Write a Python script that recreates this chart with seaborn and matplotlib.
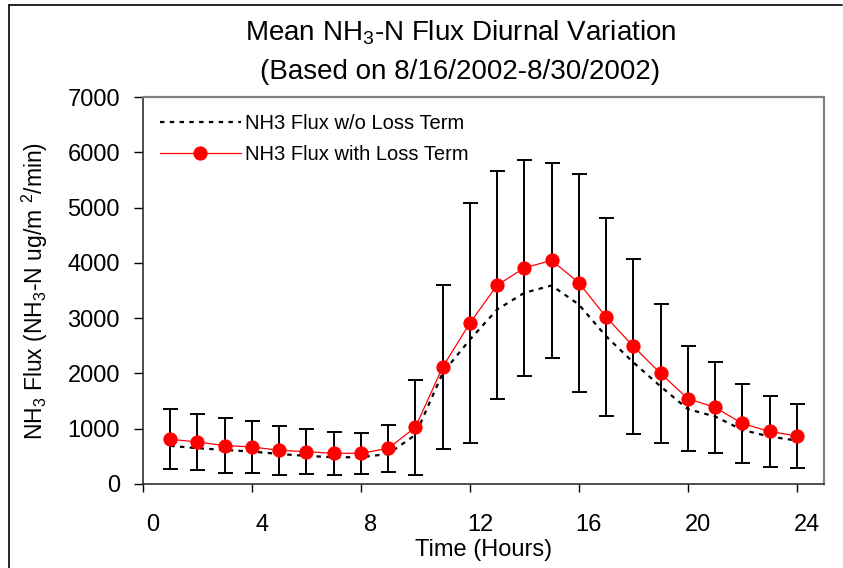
import matplotlib
matplotlib.use("Agg")
import matplotlib.pyplot as plt
import matplotlib.transforms as mtransforms
from matplotlib.lines import Line2D
import seaborn as sns
import pandas as pd

hours = list(range(1, 25))
flux_no_loss = [690, 647, 617, 586, 544, 508, 484, 484, 544, 889,
                2007, 2611, 3156, 3458, 3591, 3246, 2672, 2200, 1765, 1355,
                1221, 979, 858, 786]
flux_loss = [810, 760, 695, 670, 610, 585, 555, 555, 645, 1025,
             2115, 2910, 3595, 3910, 4045, 3640, 3020, 2490, 2000, 1545,
             1385, 1095, 950, 870]
flux_err = [538, 510, 496, 468, 441, 411, 384, 368, 426, 865,
            1490, 2164, 2058, 1958, 1759, 1973, 1783, 1586, 1260, 952,
            819, 722, 641, 583]

df = pd.DataFrame({"Hour": hours, "NoLoss": flux_no_loss, "Loss": flux_loss, "Err": flux_err})

sns.set_style("ticks")
plt.rcParams["font.family"] = ["Liberation Sans", "DejaVu Sans"]
plt.rcParams["mathtext.fontset"] = "custom"
plt.rcParams["mathtext.rm"] = "Liberation Sans"
plt.rcParams["mathtext.default"] = "regular"
plt.rcParams["text.color"] = "black"
plt.rcParams["axes.labelcolor"] = "black"
plt.rcParams["xtick.color"] = "black"
plt.rcParams["ytick.color"] = "black"

fig = plt.figure(figsize=(8.43, 5.68), dpi=100)
ax = fig.add_axes([0.1696, 0.1479, 0.8079, 0.6813])

ax.errorbar(df["Hour"], df["Loss"], yerr=df["Err"], fmt="none", ecolor="black",
            elinewidth=1.4, capsize=5.4, capthick=1.4, zorder=2)
sns.lineplot(data=df, x="Hour", y="NoLoss", ax=ax, color="black", lw=1.6,
             dashes=False, label="NH3 Flux w/o Loss Term", zorder=3)
ax.lines[-1].set_linestyle((0, (2, 2.4)))
sns.lineplot(data=df, x="Hour", y="Loss", ax=ax, color="red", lw=0.9,
             marker="o", markersize=9.5, markeredgecolor="red",
             label="NH3 Flux with Loss Term", zorder=4)

ax.set_xlim(0, 25)
ax.set_ylim(0, 7000)
ax.set_xticks(range(0, 25, 4))
ax.set_yticks(range(0, 7001, 1000))
ax.tick_params(axis="both", labelsize=17, direction="out", width=1, color="black")
ax.tick_params(axis="y", length=6.5, pad=10)
ax.tick_params(axis="x", length=5.8, pad=16)
offset = mtransforms.ScaledTranslation(0.1, 0, fig.dpi_scale_trans)
for lbl in ax.get_xticklabels():
    lbl.set_transform(lbl.get_transform() + offset)

for side in ["top", "right"]:
    ax.spines[side].set_color("#808080")
    ax.spines[side].set_linewidth(1.6)
for side in ["left", "bottom"]:
    ax.spines[side].set_color("#303030")
    ax.spines[side].set_linewidth(1.2)

ax.set_xlabel("Time (Hours)", fontsize=17, labelpad=2)
ax.set_ylabel("NH$_3$ Flux (NH$_3$-N ug/m $^2$/min)", fontsize=16.5)
ax.yaxis.set_label_coords(-0.137, 0.5)

ax.legend(loc="upper left", frameon=False, fontsize=14.5, handlelength=4,
          handletextpad=0.2, labelspacing=0.6, borderaxespad=0.45,
          bbox_to_anchor=(0.0, 1.0))

fig.text(0.546, 0.942, "Mean NH$_3$-N Flux Diurnal Variation", fontsize=20,
         ha="center", va="center")
fig.text(0.546, 0.873, "(Based on 8/16/2002-8/30/2002)", fontsize=20,
         ha="center", va="center")

fig.add_artist(Line2D([0.0107, 0.999], [0.991, 0.991], color="black", lw=1.2,
                      transform=fig.transFigure))
fig.add_artist(Line2D([0.0107, 0.0107], [0.0, 0.991], color="black", lw=1.2,
                      transform=fig.transFigure))

fig.savefig("out.png", dpi=100)
